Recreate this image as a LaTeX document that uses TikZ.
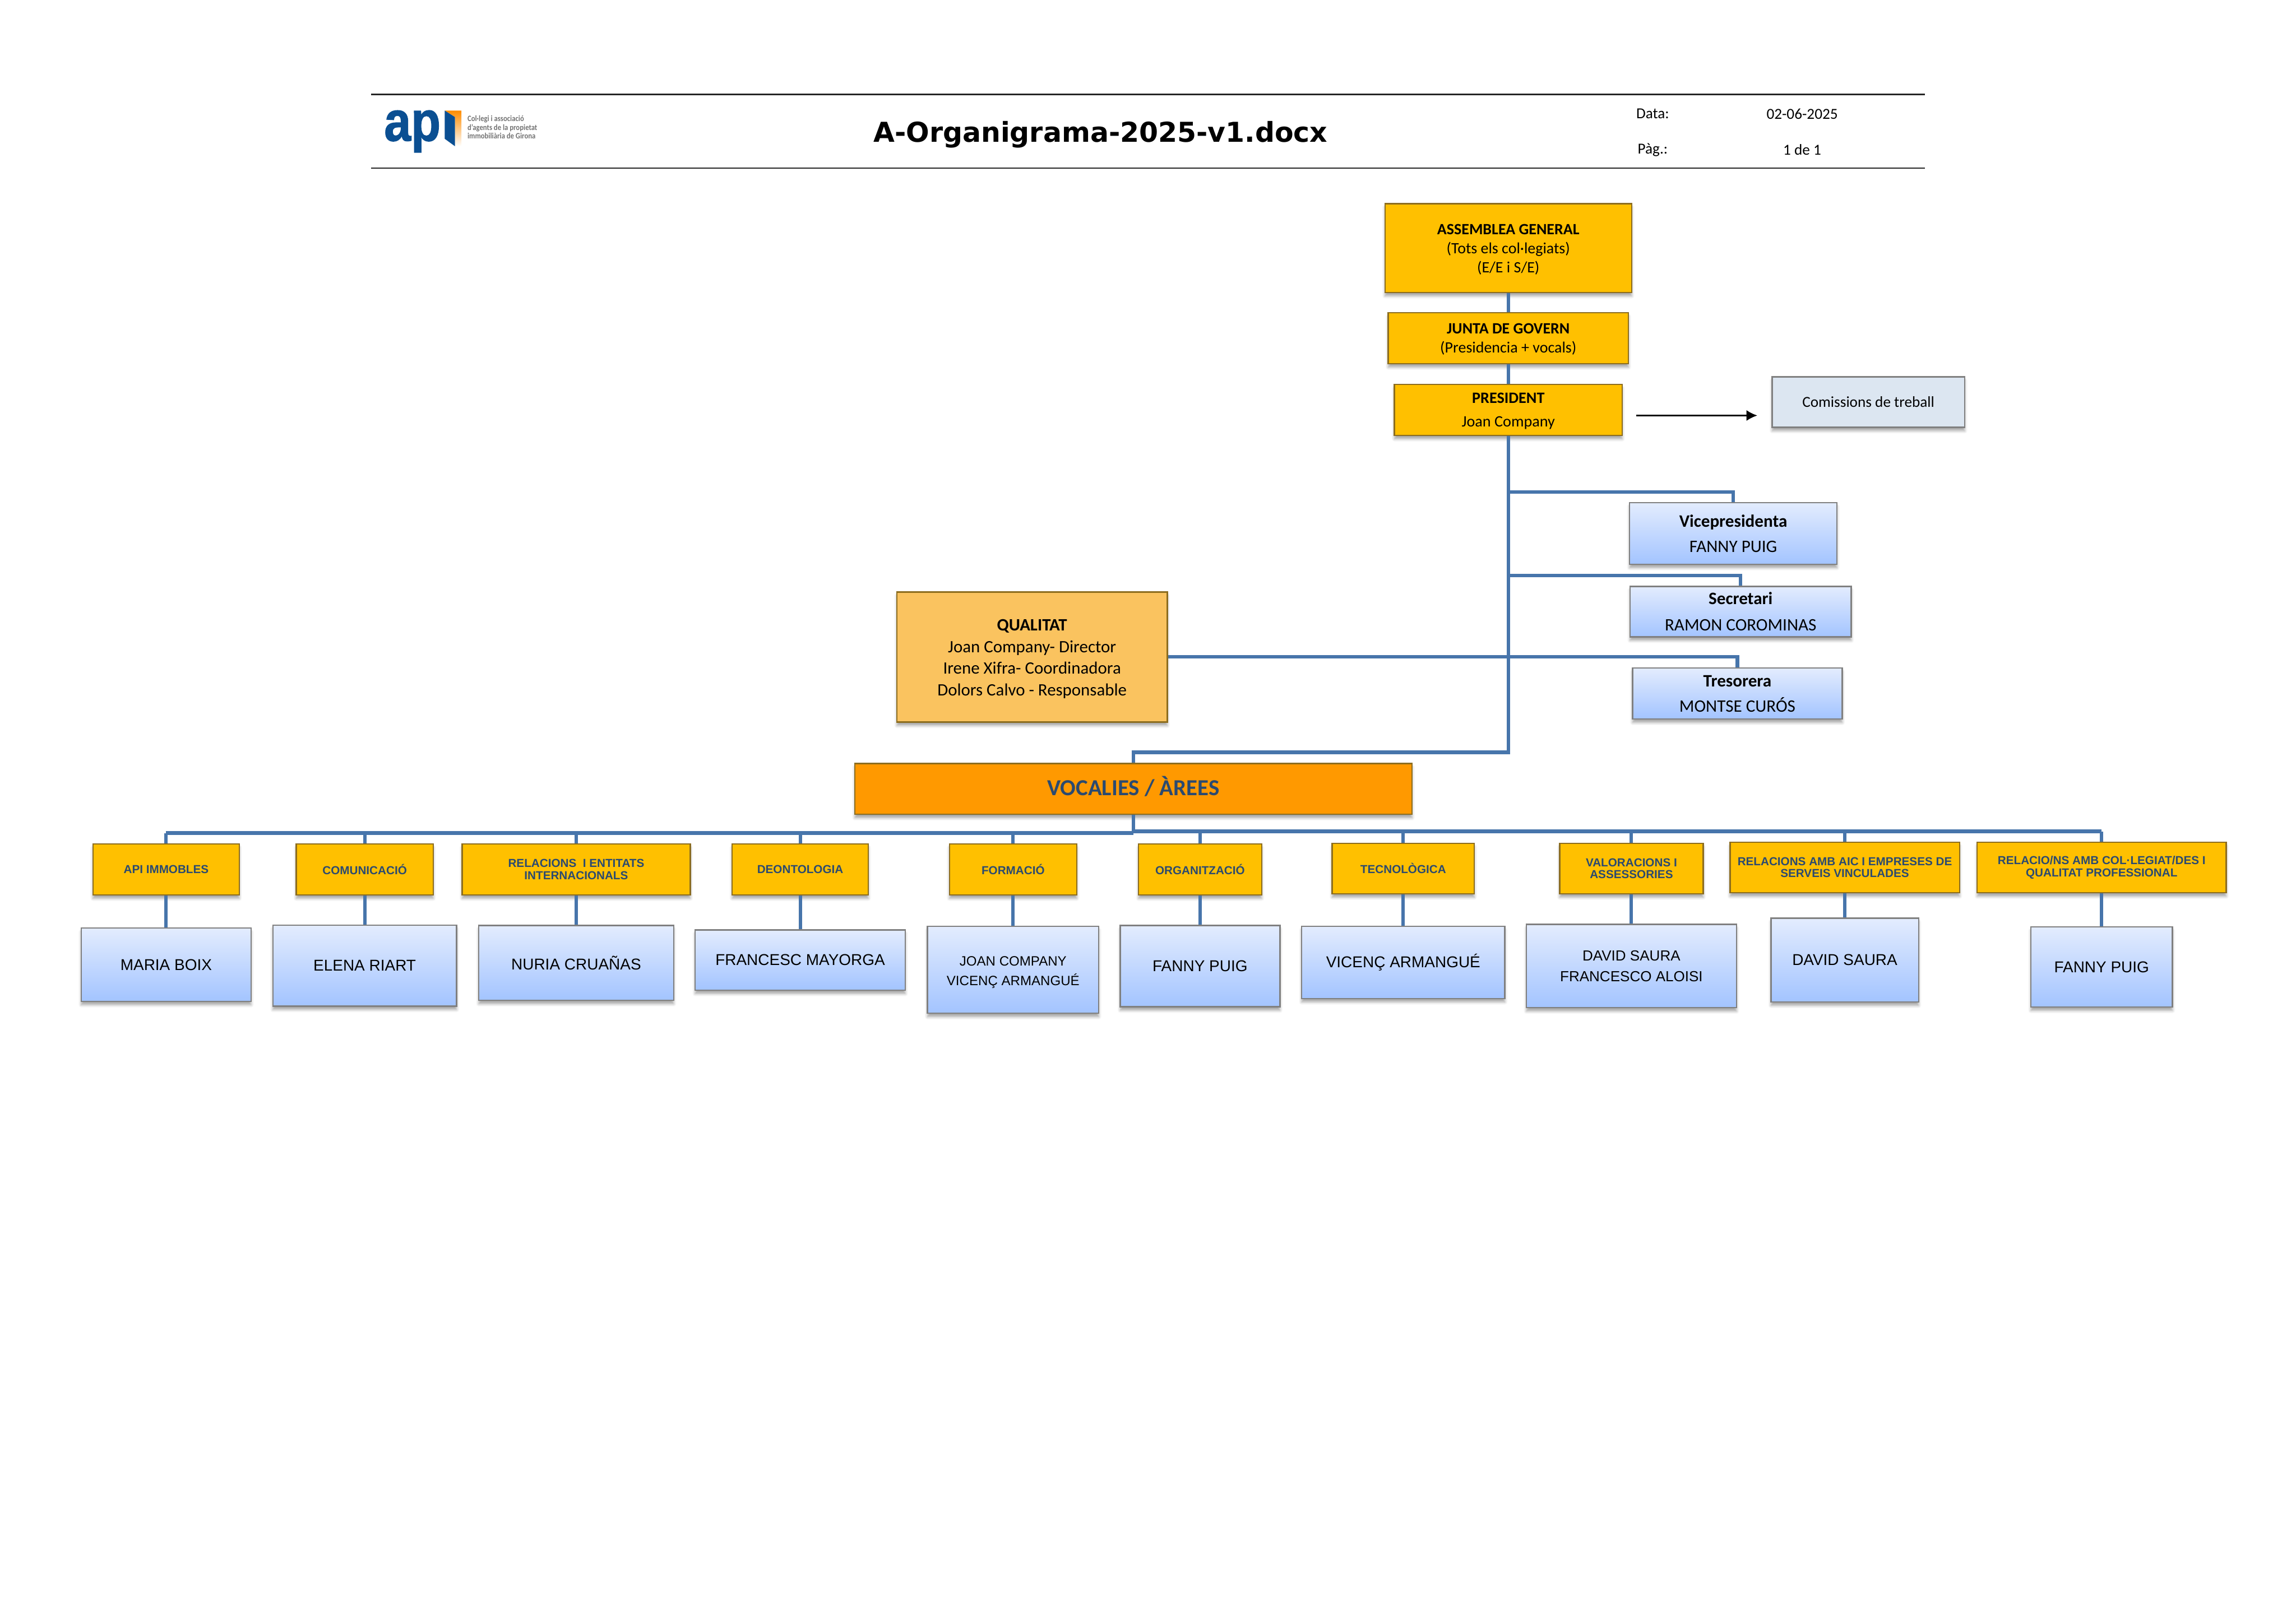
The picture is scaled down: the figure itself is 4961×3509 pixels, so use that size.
\documentclass[tikz,border=0pt]{standalone}
\usepackage{fontspec}
\setmainfont{Carlito}
\newfontfamily\arialfont{Liberation Sans}
\newfontfamily\titlefont{DejaVu Sans}
\newfontfamily\logofont[BoldFeatures={FakeBold=1.5}]{Liberation Sans}
\usetikzlibrary{arrows.meta,shadows,shadows.blur}

\def\px{0.1697pt}
\newcommand{\topgap}[1]{\rule{0pt}{#1}}
\definecolor{amber}{HTML}{FFC000}
\definecolor{amberline}{HTML}{8C6D1F}
\definecolor{orangebox}{HTML}{FF9900}
\definecolor{qualitybox}{HTML}{FAC35F}
\definecolor{paleblue}{HTML}{DCE6F1}
\definecolor{officertop}{HTML}{E3ECFE}
\definecolor{officerbottom}{HTML}{A3C4FF}
\definecolor{linkblue}{HTML}{4775AB}
\definecolor{inkblue}{HTML}{2B4A70}
\definecolor{logoblue}{HTML}{0B4F92}

\tikzset{boxsize/.style 2 args={minimum width=#1*\px, minimum height=#2*\px}}
\tikzstyle{softshadow} = [blur shadow={shadow xshift=0pt, shadow yshift=-1.3pt,
    shadow blur radius=1pt, shadow opacity=35}]
\tikzstyle{box} = [rectangle, inner sep=0pt, align=center, softshadow]
\tikzstyle{govern} = [box, draw=amberline, fill=amber, line width=0.5pt,
    font=\fontsize{5.75}{7}\selectfont]
\tikzstyle{officer} = [box, draw=black!50, top color=officertop,
    bottom color=officerbottom, line width=0.5pt,
    font=\fontsize{6.4}{9.3}\selectfont]
\tikzstyle{area} = [box, draw=amberline, fill=amber, line width=0.5pt, text=inkblue,
    font=\arialfont\bfseries\fontsize{4.25}{4.4}\selectfont]
\tikzstyle{member} = [officer, font=\arialfont\fontsize{5.75}{7.6}\selectfont]
\tikzstyle{header} = [inner sep=0pt, font=\fontsize{5.6}{7}\selectfont]
\tikzstyle{link} = [draw=linkblue, line width=1.25pt]
\tikzstyle{bus} = [draw=linkblue, line width=1.5pt]

\begin{document}
\begin{tikzpicture}[x=\px, y=-\px, >={Latex[length=4pt,width=4pt]}]
    \useasboundingbox (0,0) rectangle (4961,3509);
    % header strip
    \coordinate (ruleA) at (802,204);
    \coordinate (ruleB) at (4159,204);
    \coordinate (ruleC) at (802,363);
    \coordinate (ruleD) at (4159,363);
    \draw [black!85, line width=0.45pt] (ruleA) -- (ruleB);
    \draw [black!85, line width=0.45pt] (ruleC) -- (ruleD);
    \node [inner sep=0pt, text=logoblue] (logoap) at (891,284)
        {\logofont\bfseries\fontsize{20.6}{21}\selectfont\scalebox{0.86}[1]{ap}};
    \shade [top color=orange!90!yellow, bottom color=white] (961,239) -- (997,239)
        -- (997,316) -- (983,316) -- (983,253) -- cycle;
    \fill [logoblue] (961,239) -- (983,253) -- (983,316) -- (961,300) -- cycle;
    \node [inner sep=0pt, align=left, anchor=west, text=black!55,
        font=\bfseries\fontsize{3}{3.15}\selectfont] (logotext) at (1009,275)
        {\scalebox{0.87}[1]{Col·legi i associació}\\
        \scalebox{0.87}[1]{d'agents de la propietat}\\
        \scalebox{0.87}[1]{immobiliària de Girona}};
    \node [inner sep=0pt, font=\titlefont\bfseries\fontsize{10.05}{12}\selectfont] (title)
        at (2378,291) {A-Organigrama-2025-v1.docx};
    \node [header] (datalabel) at (3571,246) {Data:};
    \node [header] (datevalue) at (3894,246) {02-06-2025};
    \node [header] (pagelabel) at (3571,324) {Pàg.:};
    \node [header] (pagevalue) at (3894,324) {1 de 1};

    % We start by placing the governing blocks
    \node [govern, boxsize={533}{192}] (assemblea) at (3259,536)
        {\topgap{4.9pt}\textbf{ASSEMBLEA GENERAL}\\(Tots els col·legiats)\\(E/E i S/E)};
    \node [govern, boxsize={519}{110}] (junta) at (3259,731)
        {\topgap{4.6pt}\textbf{JUNTA DE GOVERN}\\(Presidencia + vocals)};
    \node [govern, boxsize={492}{110}, font=\fontsize{5.8}{8.6}\selectfont] (president) at (3259,886)
        {\topgap{4.6pt}\textbf{PRESIDENT}\\Joan Company};
    \node [box, draw=black!50, fill=paleblue, line width=0.5pt, boxsize={416}{109},
        font=\fontsize{5.6}{7}\selectfont] (comissions) at (4037,869) {Comissions de treball};
    \coordinate (arrowstart) at (3535,898);
    \coordinate (arrowend) at (3797,898);

    \node [officer, boxsize={448}{133}] (vice) at (3745,1153)
        {\textbf{Vicepresidenta}\\FANNY PUIG};
    \node [officer, boxsize={478}{109}, font=\fontsize{6.4}{9.6}\selectfont] (secretari) at (3761,1322)
        {\textbf{Secretari}\\RAMON COROMINAS};
    \node [officer, boxsize={453}{110}] (tresorera) at (3754,1499)
        {\textbf{Tresorera}\\MONTSE CURÓS};
    \node [box, draw=amberline, fill=qualitybox, line width=0.5pt, boxsize={584}{281},
        font=\fontsize{6.35}{7.9}\selectfont] (qualitat) at (2230,1420)
        {\topgap{5.6pt}\textbf{QUALITAT}\\Joan Company- Director\\Irene Xifra- Coordinadora\\Dolors Calvo - Responsable};
    \node [box, draw=amberline, fill=orangebox, line width=0.5pt, boxsize={1204}{110}, text=inkblue,
        font=\bfseries\fontsize{8.4}{9}\selectfont] (vocalies) at (2449,1705)
        {\raisebox{1pt}[\height][\depth]{VOCALIES / ÀREES}};

    % areas, first row
    \node [area, boxsize={316}{110}] (immobles) at (359,1879) {API IMMOBLES};
    \node [area, boxsize={296}{110}] (comunicacio) at (788,1879) {COMUNICACIÓ};
    \node [area, boxsize={493}{110}] (relacions) at (1245,1879) {RELACIONS \ I ENTITATS\\INTERNACIONALS};
    \node [area, boxsize={294}{110}] (deontologia) at (1729,1879) {DEONTOLOGIA};
    \node [area, boxsize={275}{110}] (formacio) at (2189,1879) {FORMACIÓ};
    \node [area, boxsize={266}{110}] (organitzacio) at (2593,1879) {ORGANITZACIÓ};
    \node [area, boxsize={307}{109}] (tecnologica) at (3032,1877) {TECNOLÒGICA};
    \node [area, boxsize={310}{109}] (valoracions) at (3525,1877) {VALORACIONS I\\ASSESSORIES};
    \node [area, boxsize={496}{109}] (aic) at (3986,1875) {RELACIONS AMB AIC I EMPRESES DE\\SERVEIS VINCULADES};
    \node [area, boxsize={538}{109}] (collegiats) at (4541,1875) {RELACIO/NS AMB COL·LEGIAT/DES I\\QUALITAT PROFESSIONAL};

    % names, second row
    \node [member, boxsize={367}{158}] (boix) at (359,2085) {MARIA BOIX};
    \node [member, boxsize={397}{175}] (riart) at (788,2087) {ELENA RIART};
    \node [member, boxsize={421}{162}] (cruanas) at (1245,2081) {NURIA CRUAÑAS};
    \node [member, boxsize={454}{130}] (mayorga) at (1729,2075) {FRANCESC MAYORGA};
    \node [member, boxsize={370}{188}, font=\arialfont\fontsize{4.95}{7.2}\selectfont] (company) at (2189,2096)
        {\topgap{5.5pt}JOAN COMPANY\\VICENÇ ARMANGUÉ};
    \node [member, boxsize={345}{176}] (puig) at (2593,2088) {FANNY PUIG};
    \node [member, boxsize={439}{156}] (armangue) at (3032,2080) {VICENÇ ARMANGUÉ};
    \node [member, boxsize={454}{180}, font=\arialfont\fontsize{5.35}{7.5}\selectfont] (aloisi) at (3525,2088)
        {DAVID SAURA\\FRANCESCO ALOISI};
    \node [member, boxsize={319}{181}] (saura) at (3986,2075) {DAVID SAURA};
    \node [member, boxsize={306}{173}] (fanny) at (4541,2090) {FANNY PUIG};

    % trunk and branches
    \coordinate (trunkvice) at (3259,1063);
    \coordinate (trunksecretari) at (3259,1244);
    \coordinate (trunkend) at (3259,1626);
    \coordinate (busleft) at (2449,1800.5);
    \coordinate (busright) at (2449,1797);
    \draw [link] (assemblea) -- (junta);
    \draw [link] (junta) -- (president);
    \draw [link] (president.south) -- (trunkend) -| (vocalies.north);
    \draw [link] (trunkvice) -| (vice.north);
    \draw [link] (trunksecretari) -| (secretari.north);
    \draw [link] (qualitat.east) -| (tresorera.north);
    \draw [link] (vocalies.south) -- (busleft);
    \draw [bus] (busleft) -- (busleft -| immobles.north);
    \draw [bus] (busright) -- (busright -| collegiats.north);
    \foreach \a in {immobles,comunicacio,relacions,deontologia,formacio}
        \draw [link] (busleft -| \a.north) -- (\a.north);
    \foreach \a in {organitzacio,tecnologica,valoracions,aic,collegiats}
        \draw [link] (busright -| \a.north) -- (\a.north);
    \foreach \a/\b in {immobles/boix,comunicacio/riart,relacions/cruanas,deontologia/mayorga,
        formacio/company,organitzacio/puig,tecnologica/armangue,valoracions/aloisi,aic/saura,collegiats/fanny}
        \draw [link] (\a.south) -- (\b.north);
    \draw [->, line width=0.5pt] (arrowstart) -- (arrowend);
\end{tikzpicture}
\end{document}
